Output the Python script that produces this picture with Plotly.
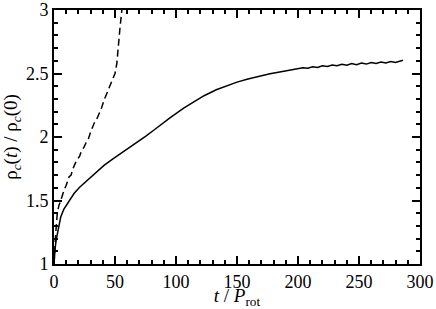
import plotly.graph_objects as go

# solid curve
t_solid = [0, 0.4, 1, 1.8, 2.7, 4, 5.5, 8, 10.9, 16.4, 21, 27.3, 34, 41, 48, 54.6, 61, 68.3, 75, 82,
           88, 95, 106.6, 114, 123, 133, 141, 150, 159, 169, 177, 185, 193,
           200, 204, 208, 212, 216, 220, 224, 228, 232, 236, 240, 244, 248, 252, 256, 260,
           264, 268, 272, 276, 280, 284, 286]
v_solid = [1.0, 1.07, 1.13, 1.19, 1.24, 1.31, 1.37, 1.43, 1.476, 1.555, 1.605, 1.66, 1.72, 1.776, 1.826, 1.868,
           1.91, 1.96, 2.005, 2.055, 2.10, 2.15, 2.23, 2.275, 2.325, 2.372, 2.402, 2.432, 2.457, 2.482, 2.498, 2.512, 2.525,
           2.536, 2.545, 2.541, 2.553, 2.548, 2.561, 2.555, 2.567, 2.561, 2.573, 2.566, 2.578, 2.570, 2.582, 2.574, 2.586,
           2.578, 2.590, 2.582, 2.594, 2.586, 2.601, 2.604]

# dashed curve
t_dash = [0, 0.5, 1.4, 2.7, 4, 5.5, 7, 8.2, 10, 12.3, 14, 15.5, 17.8, 19.5, 21, 22.5, 24.6, 26.5, 28,
          30, 31.4, 33, 35, 36.9, 39, 41, 44, 47, 48.5, 50, 51.5, 52.7, 54, 55.5, 56.5]
v_dash = [1.0, 1.13, 1.24, 1.40, 1.46, 1.50, 1.55, 1.58, 1.62, 1.685, 1.70, 1.75, 1.80, 1.83, 1.85, 1.89, 1.92, 1.96, 1.98,
          2.04, 2.077, 2.11, 2.14, 2.18, 2.23, 2.29, 2.36, 2.42, 2.46, 2.50, 2.58, 2.73, 2.85, 2.99, 3.1]

x_ticks = [0, 50, 100, 150, 200, 250, 300]
y_ticks = [1, 1.5, 2, 2.5, 3]
x_minor = [v for v in range(0, 301, 10)]
y_minor = [round(1 + 0.1 * i, 2) for i in range(21)]

x_range = [0, 300]
y_range = [1, 3]

fig = go.Figure()
fig.add_trace(go.Scatter(x=t_dash, y=v_dash, mode="lines", xaxis="x", yaxis="y",
                         line=dict(color="black", width=1.5, dash="7px,4px"), showlegend=False))
fig.add_trace(go.Scatter(x=t_solid, y=v_solid, mode="lines", xaxis="x2", yaxis="y2",
                         line=dict(color="black", width=1.5), showlegend=False))

tick_font = dict(family="Liberation Serif", size=18, color="black")
title_font = dict(family="Liberation Serif", size=19, color="black")

fig.update_layout(
    width=436, height=309,
    margin=dict(l=54, r=16, t=10, b=45, autoexpand=False),
    plot_bgcolor="white",
    xaxis=dict(range=x_range, tickvals=x_ticks,
               ticks="inside", ticklen=8, tickwidth=2, tickcolor="black",
               showline=True, linecolor="black", linewidth=2, mirror="ticks",
               showgrid=False, zeroline=False, automargin=False,
               tickfont=tick_font,
               title=dict(text="<i>t</i> / <i>P</i><sub>rot</sub>", standoff=0, font=title_font)),
    yaxis=dict(range=y_range, tickvals=y_ticks,
               ticks="inside", ticklen=8, tickwidth=2, tickcolor="black",
               showline=True, linecolor="black", linewidth=2, mirror="ticks",
               showgrid=False, zeroline=False, automargin=False,
               ticklabeloverflow="allow",
               tickfont=tick_font,
               title=dict(text="ρ<sub><i>c</i></sub>(<i>t</i>) / ρ<sub><i>c</i></sub>(0)", standoff=6, font=title_font)),
    xaxis2=dict(range=x_range, overlaying="x", side="bottom", tickvals=x_minor,
                ticks="inside", ticklen=4, tickwidth=1.5, tickcolor="black",
                showline=False, mirror="ticks", showticklabels=False,
                showgrid=False, zeroline=False, automargin=False),
    yaxis2=dict(range=y_range, overlaying="y", side="left", tickvals=y_minor,
                ticks="inside", ticklen=4, tickwidth=1.5, tickcolor="black",
                showline=False, mirror="ticks", showticklabels=False,
                showgrid=False, zeroline=False, automargin=False),
)
fig.write_html("out.html", config={"displayModeBar": False},
               post_script="document.body.style.margin='0';document.body.style.overflow='hidden';")
